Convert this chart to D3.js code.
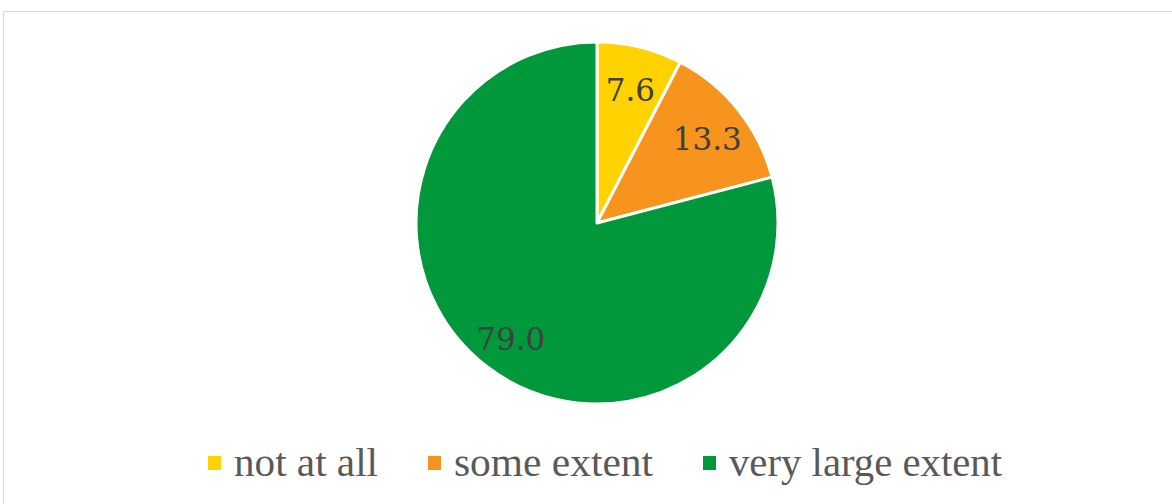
<!DOCTYPE html>
<html><head><meta charset="utf-8">
<script src="https://cdn.jsdelivr.net/npm/d3@7"></script>
<style>html,body{margin:0;padding:0;background:#fff;}svg{display:block;}</style>
</head><body>
<svg id="c" width="1172" height="504"></svg>
<script>
const categories = ["not at all", "some extent", "very large extent"];
const values = [7.6, 13.3, 79.0];
const colors = ["#FFD200", "#F7941D", "#00983A"];

const svg = d3.select("#c");
svg.append("rect").attr("x", 3.5).attr("y", 11.5).attr("width", 1200).attr("height", 520)
  .attr("fill", "#fff").attr("stroke", "#d9d9d9").attr("stroke-width", 1);

const cx = 597, cy = 223, R = 181;
const pie = d3.pie().sort(null).value(d => d)(values);
const arc = d3.arc().innerRadius(0).outerRadius(R);
const labelArc = d3.arc().innerRadius(R * 0.78).outerRadius(R * 0.78);
const g = svg.append("g").attr("transform", `translate(${cx},${cy})`);
g.selectAll("path").data(pie).join("path")
  .attr("d", arc).attr("fill", (d, i) => colors[i])
  .attr("stroke", "#fff").attr("stroke-width", 3).attr("stroke-linejoin", "round");
g.selectAll("text").data(pie).join("text")
  .attr("transform", d => `translate(${labelArc.centroid(d)})`)
  .attr("text-anchor", "middle").attr("dy", "0.48em")
  .attr("font-family", "'DejaVu Serif', serif").attr("font-size", 31)
  .attr("fill", "#404040")
  .text(d => d.data.toFixed(1));

// legend
const legX = [208, 428, 703];
const legW = [144, 199, 273];
const lg = svg.append("g");
categories.forEach((c, i) => {
  lg.append("rect").attr("x", legX[i]).attr("y", 456).attr("width", 13).attr("height", 14).attr("fill", colors[i]);
  lg.append("text").attr("x", legX[i] + 26).attr("y", 476)
    .attr("font-family", "'Liberation Serif', serif").attr("font-size", 39)
    .attr("fill", "#595959")
    .attr("textLength", legW[i]).attr("lengthAdjust", "spacingAndGlyphs")
    .text(c);
});
</script>
</body></html>
